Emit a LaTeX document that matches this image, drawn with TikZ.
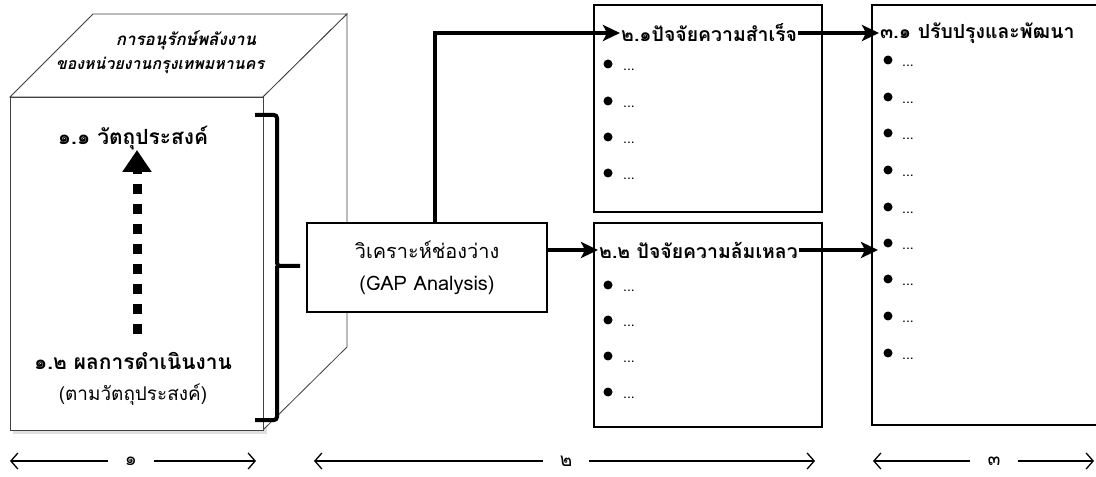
\documentclass[tikz,border=0pt]{standalone}
\usepackage{fontspec}
\newfontfamily\thai[Script=Thai]{Loma}
\newfontfamily\thaislant[Script=Thai,FakeSlant=0.22]{Loma}
\usetikzlibrary{arrows.meta}

\tikzset{
  cubeline/.style={draw=black!75, line width=0.8bp},
  panel/.style={draw, line width=2.6bp, fill=white},
  flow/.style={line width=4bp, -{Stealth[length=17bp,width=16bp,inset=4bp]}},
  head/.style={font=\thai\bfseries\fontsize{19.5}{22}\selectfont, inner sep=1bp},
  title/.style={font=\thai\bfseries\fontsize{21}{24}\selectfont, inner sep=0bp},
  bulletdot/.style={circle, fill=black, inner sep=0pt, minimum size=9bp},
  dots/.style={font=\thai\fontsize{14}{16}\selectfont, inner sep=0pt, anchor=west},
  dimlabel/.style={font=\thai\fontsize{19}{20}\selectfont, inner xsep=17bp, inner ysep=0bp},
  dimarrow/.style={line width=1.3bp, -{Straight Barb[length=7bp,width=16bp]}},
}

\begin{document}
\begin{tikzpicture}[x=1bp,y=-1bp]
\useasboundingbox[fill=white] (0,0) rectangle (1096,477);

% --- the block: front, top and side faces
\fill[black!12] (13,100) rectangle (267,434);
\filldraw[cubeline, fill=white] (10,97) -- (93,14) -- (347,14) -- (263,97) -- cycle;
\filldraw[cubeline, fill=white] (263,97) -- (347,14) -- (347,347) -- (263,430) -- cycle;
\filldraw[cubeline, fill=white] (10,97) rectangle (263,430);

\node[font=\thaislant\bfseries\fontsize{17}{19}\selectfont, inner sep=0pt] (toptxtA) at (186,40) {การอนุรักษ์พลังงาน};
\node[font=\thaislant\bfseries\fontsize{16}{19}\selectfont, inner sep=0pt] (toptxtB) at (160,65) {ของหน่วยงานกรุงเทพมหานคร};

\node[title] (obj) at (133,138) {๑.๑ วัตถุประสงค์};
\node[title] (res) at (133,361) {๑.๒ ผลการดำเนินงาน};
\node[font=\thai\fontsize{19}{22}\selectfont, inner sep=0pt] (resnote) at (133,395) {(ตามวัตถุประสงค์)};

\coordinate (dashlow) at (137,334);
\coordinate (dashhigh) at (137,150);
\draw[line width=9bp, dash pattern=on 10bp off 10bp,
      -{Triangle[length=22bp,width=28bp]}] (dashlow) -- (dashhigh);

% --- brace gathering the block
\coordinate (bracetip) at (300,266);
\draw[line width=4bp, rounded corners=3bp]
  (255,115) -| (277,266) -- (bracetip)
  (277,266) |- (255,420);

% --- gap analysis
\node[panel, minimum width=240bp, minimum height=89bp, align=center,
      font=\thai\fontsize{20}{32}\selectfont] (gap) at (427,267.5)
      {วิเคราะห์ช่องว่าง\\(GAP Analysis)};

% --- result panels
\node[panel, minimum width=228bp, minimum height=207bp] (box21) at (708,108.5) {};
\node[panel, minimum width=228bp, minimum height=204bp] (box22) at (708,325) {};
\draw[line width=2.6bp] (1110,5) -- (872,5) -- (872,425) -- (1110,425);
\coordinate (box3) at (872,5);

\node[head, anchor=west] (h21) at (620,33) {๒.๑ปัจจัยความสำเร็จ};
\node[head, anchor=west] (h22) at (598,250) {๒.๒ ปัจจัยความล้มเหลว};
\node[head, anchor=west] (h31) at (879,33) {๓.๑ ปรับปรุงและพัฒนา};

\foreach \y [count=\i] in {64,101,137,173} {
  \node[bulletdot] (pa\i) at (608,\y) {};
  \node[dots] (pad\i) at (623,\y+6) {...};
}
\foreach \y [count=\i] in {285,320,356,392} {
  \node[bulletdot] (pb\i) at (608,\y) {};
  \node[dots] (pbd\i) at (623,\y+6) {...};
}
\foreach \y [count=\i] in {60,97,133,170,207,243,279,316,353} {
  \node[bulletdot] (pc\i) at (888,\y) {};
  \node[dots] (pcd\i) at (902,\y+6) {...};
}

% --- connectors
\draw[flow] (gap.north -| 435,0) |- (h21.west);
\draw[flow] (gap.east |- h22.west) -- (h22.west);
\draw[flow] (h21.east) -- (h31.west);
\coordinate (in3) at (878,250);
\draw[flow] (h22.east) -- (in3);

% --- spans along the bottom
\node[dimlabel] (s1) at (131,461) {๑};
\node[dimlabel] (s2) at (566,461) {๒};
\node[dimlabel] (s3) at (994,461) {๓};
\coordinate (s1l) at (10,461);  \coordinate (s1r) at (256,461);
\coordinate (s2l) at (314,461); \coordinate (s2r) at (815,461);
\coordinate (s3l) at (873,461); \coordinate (s3r) at (1094,461);
\draw[dimarrow] (s1.west) -- (s1l);
\draw[dimarrow] (s1.east) -- (s1r);
\draw[dimarrow] (s2.west) -- (s2l);
\draw[dimarrow] (s2.east) -- (s2r);
\draw[dimarrow] (s3.west) -- (s3l);
\draw[dimarrow] (s3.east) -- (s3r);
\end{tikzpicture}
\end{document}
